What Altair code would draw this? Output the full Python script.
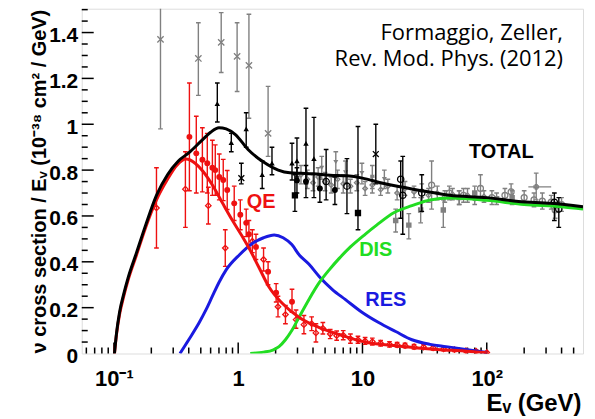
import altair as alt
import pandas as pd

# ---------------- data ----------------
# model curves (E in GeV, sigma/E in 1e-38 cm^2/GeV)
tot_E = [0.101, 0.105, 0.111, 0.12, 0.13, 0.152, 0.18, 0.22, 0.27, 0.33, 0.4, 0.5, 0.6, 0.7, 0.8, 0.95,
         1.2, 1.6, 2.1, 2.6, 3.2, 4, 5.5, 7.5, 10, 14, 20, 30, 50, 100, 180, 330, 595]
tot_S = [0.0, 0.09, 0.18, 0.26, 0.33, 0.44, 0.56, 0.69, 0.78, 0.84, 0.875, 0.925, 0.965, 0.985, 0.98, 0.955,
         0.89, 0.835, 0.80, 0.788, 0.786, 0.784, 0.778, 0.775, 0.765, 0.745, 0.727, 0.71, 0.69, 0.68, 0.663, 0.655, 0.64]

qe_E = [0.101, 0.105, 0.111, 0.12, 0.13, 0.152, 0.18, 0.22, 0.27, 0.32, 0.38, 0.45, 0.52, 0.62, 0.75, 0.9,
        1.08, 1.25, 1.47, 1.77, 2.25, 3.1, 4.5, 6.5, 10.5, 20, 40, 70, 100]
qe_S = [0.0, 0.085, 0.17, 0.25, 0.32, 0.43, 0.55, 0.67, 0.76, 0.82, 0.848, 0.83, 0.795, 0.735, 0.655, 0.58,
        0.51, 0.45, 0.375, 0.29, 0.22, 0.157, 0.113, 0.083, 0.05, 0.032, 0.018, 0.01, 0.003]

res_E = [0.34, 0.4, 0.486, 0.55, 0.62, 0.7, 0.8, 1.02, 1.3, 1.6, 1.95, 2.3, 2.7, 3.1, 3.7, 4.5, 5.7, 7.3,
         9.9, 13.5, 18.5, 25, 35, 47, 70, 100]
res_S = [0.0, 0.06, 0.135, 0.19, 0.25, 0.31, 0.365, 0.43, 0.48, 0.505, 0.517, 0.505, 0.475, 0.43, 0.39, 0.335,
         0.28, 0.235, 0.18, 0.135, 0.096, 0.06, 0.04, 0.03, 0.017, 0.004]

dis_E = [1.25, 1.6, 1.9, 2.13, 2.4, 2.7, 3.1, 3.7, 4.5, 5.4, 6.5, 8, 10.5, 13, 18, 25, 35, 50, 100, 200, 400, 595]
dis_S = [0.0, 0.006, 0.015, 0.03, 0.06, 0.1, 0.16, 0.235, 0.31, 0.365, 0.415, 0.465, 0.52, 0.56, 0.615, 0.645,
         0.67, 0.678, 0.668, 0.65, 0.64, 0.63]

# measurements: energy, value, error-bar low, error-bar high
gx_E = [0.237, 0.478, 0.73, 0.98, 1.22, 1.74]
gx_S = [1.37, 1.287, 1.357, 1.296, 1.257, 0.96]
gx_lo = [0.98, 1.126, 1.226, 1.143, 1.026, 0.86]
gx_hi = [1.80, 1.443, 1.487, 1.443, 1.48, 1.165]

btri_E = [0.679, 0.88, 1.16, 1.56, 1.87, 2.71, 2.97, 3.51, 4.07]
btri_S = [1.09, 0.92, 0.98, 0.78, 0.83, 0.83, 0.84, 0.917, 0.85]
btri_lo = [1.01, 0.88, 0.90, 0.72, 0.78, 0.757, 0.77, 0.74, 0.68]
btri_hi = [1.18, 0.96, 1.05, 0.84, 0.90, 0.917, 0.94, 1.07, 1.03]

bx_E = [1.06, 12.8]
bx_S = [0.765, 0.87]
bx_lo = [0.74, 0.74]
bx_hi = [0.83, 1.0]

bcirc_E = [2.97, 3.51, 4.54, 6.0]
bcirc_S = [0.755, 0.75, 0.72, 0.713]
bcirc_lo = [0.70, 0.68, 0.66, 0.65]
bcirc_hi = [0.81, 0.82, 0.78, 0.77]

bsq_E = [2.86, 9.2]
bsq_S = [0.69, 0.613]
bsq_lo = [0.62, 0.54]
bsq_hi = [0.78, 0.99]

bopen_E = [5.1, 7.5, 20.3, 21.1, 30, 350, 380]
bopen_S = [0.75, 0.73, 0.76, 0.69, 0.70, 0.66, 0.63]
bopen_lo = [0.67, 0.61, 0.59, 0.52, 0.62, 0.58, 0.55]
bopen_hi = [0.89, 0.85, 0.84, 0.86, 0.78, 0.70, 0.68]

gtri_E = [4.7, 6.1, 7.3, 9.9, 12, 15]
gtri_S = [0.81, 0.835, 0.79, 0.787, 0.77, 0.76]
gtri_lo = [0.76, 0.78, 0.74, 0.74, 0.72, 0.72]
gtri_hi = [0.86, 0.88, 0.84, 0.83, 0.82, 0.80]

gsq_E = [18.5, 23.6, 29.4, 44.7, 60, 80, 120, 160]
gsq_S = [0.58, 0.56, 0.626, 0.626, 0.68, 0.70, 0.675, 0.68]
gsq_lo = [0.53, 0.50, 0.57, 0.55, 0.65, 0.67, 0.65, 0.65]
gsq_hi = [0.63, 0.61, 0.68, 0.67, 0.71, 0.73, 0.70, 0.71]

gopen_E = [36, 50, 65, 89, 110, 140, 157, 200, 240, 280, 330, 355, 400]
gopen_S = [0.735, 0.70, 0.69, 0.72, 0.68, 0.69, 0.705, 0.68, 0.67, 0.665, 0.66, 0.626, 0.65]
gopen_lo = [0.63, 0.67, 0.66, 0.67, 0.65, 0.66, 0.67, 0.65, 0.64, 0.63, 0.63, 0.59, 0.62]
gopen_hi = [0.84, 0.73, 0.72, 0.78, 0.71, 0.72, 0.74, 0.71, 0.70, 0.70, 0.69, 0.66, 0.68]

gdia_E = [3.2, 3.6, 4.0, 4.4, 5.0, 5.6, 6.3, 7.0, 8.0, 9.0, 10.5, 12, 14, 16, 19, 22, 26, 30, 34, 40, 46,
          53, 60, 70, 80, 95]
gdia_S = [0.78, 0.76, 0.745, 0.77, 0.75, 0.735, 0.76, 0.74, 0.73, 0.745, 0.72, 0.735, 0.715, 0.73, 0.70,
          0.72, 0.705, 0.71, 0.69, 0.70, 0.685, 0.695, 0.68, 0.69, 0.675, 0.685]
gdia_lo = [0.74, 0.72, 0.71, 0.73, 0.71, 0.70, 0.72, 0.70, 0.70, 0.71, 0.69, 0.70, 0.69, 0.70, 0.67,
           0.69, 0.68, 0.68, 0.66, 0.67, 0.66, 0.67, 0.65, 0.66, 0.65, 0.66]
gdia_hi = [0.82, 0.80, 0.78, 0.81, 0.79, 0.77, 0.80, 0.78, 0.76, 0.78, 0.75, 0.77, 0.74, 0.76, 0.73,
           0.75, 0.73, 0.74, 0.72, 0.73, 0.71, 0.72, 0.71, 0.72, 0.70, 0.71]

gplus_E = [250]
gplus_S = [0.727]
gplus_lo = [0.67]
gplus_hi = [0.787]
gplus_Elo = [216]
gplus_Ehi = [330]

rfill_E = [0.405, 0.46, 0.515, 0.564, 0.62, 0.654, 0.704, 0.758, 0.816, 0.929, 1.04, 1.16, 1.22, 1.39,
           1.74, 2.02, 2.71]
rfill_S = [0.945, 0.873, 0.845, 0.83, 0.81, 0.80, 0.77, 0.757, 0.713, 0.655, 0.605, 0.57, 0.52, 0.465,
           0.357, 0.265, 0.226]
rfill_lo = [0.71, 0.70, 0.705, 0.70, 0.69, 0.69, 0.67, 0.667, 0.628, 0.58, 0.54, 0.51, 0.46, 0.41,
            0.30, 0.225, 0.18]
rfill_hi = [1.18, 1.035, 0.985, 0.96, 0.93, 0.91, 0.87, 0.847, 0.798, 0.73, 0.67, 0.63, 0.58, 0.52,
            0.40, 0.305, 0.28]

ropen_E = [0.22, 0.376, 0.575, 0.787, 1.3, 1.6, 2.09, 2.4, 2.92, 3.38, 3.9, 4.22, 4.8, 5.5, 6.2, 7.0,
           8.0, 9.2, 10.5, 12, 14, 16.5, 19, 22, 26, 31, 37, 45, 55, 68, 82, 100]
ropen_S = [0.635, 0.717, 0.645, 0.46, 0.49, 0.41, 0.204, 0.17, 0.148, 0.126, 0.13, 0.09, 0.11, 0.085,
           0.078, 0.08, 0.065, 0.06, 0.055, 0.052, 0.045, 0.04, 0.038, 0.035, 0.03, 0.028, 0.025, 0.02,
           0.017, 0.012, 0.01, 0.004]
ropen_lo = [0.46, 0.55, 0.565, 0.38, 0.44, 0.36, 0.16, 0.13, 0.11, 0.086, 0.10, 0.05, 0.085, 0.065,
            0.058, 0.06, 0.045, 0.045, 0.04, 0.037, 0.033, 0.028, 0.028, 0.025, 0.02, 0.018, 0.015,
            0.012, 0.009, 0.004, 0.004, 0.0]
ropen_hi = [0.81, 0.88, 0.725, 0.54, 0.54, 0.46, 0.25, 0.21, 0.19, 0.166, 0.16, 0.13, 0.135, 0.105,
            0.098, 0.10, 0.085, 0.075, 0.07, 0.067, 0.057, 0.052, 0.048, 0.045, 0.04, 0.038, 0.035,
            0.028, 0.025, 0.02, 0.016, 0.009]

# labels
lab_text = ["QE", "DIS", "RES", "TOTAL"]
lab_E = [1.53, 12.8, 15.4, 131]
lab_S = [0.661, 0.452, 0.235, 0.878]
lab_col = ["#ee1111", "#22dd22", "#1a1ae0", "#000000"]

cite_text = ["Formaggio, Zeller, ", "Rev. Mod. Phys. (2012)"]
cite_E = [411, 411]
cite_S = [1.369, 1.252]

# axis ticks
x_major = [0.1, 1, 10, 100]
x_minor = [0.06, 0.07, 0.08, 0.09, 0.2, 0.3, 0.4, 0.5, 0.6, 0.7, 0.8, 0.9, 2, 3, 4, 5, 6, 7, 8, 9,
           20, 30, 40, 50, 60, 70, 80, 90, 200, 300, 400, 500]
y_major = [0.2, 0.4, 0.6, 0.8, 1.0, 1.2, 1.4]
y_minor = [0.05, 0.1, 0.15, 0.25, 0.3, 0.35, 0.45, 0.5, 0.55, 0.65, 0.7, 0.75, 0.85, 0.9, 0.95, 1.05,
           1.1, 1.15, 1.25, 1.3, 1.35, 1.45, 1.5]
y_labels = [0, 0.2, 0.4, 0.6, 0.8, 1.0, 1.2, 1.4]

# ---------------- styling ----------------
W, H = 503, 346
FONT = "Liberation Sans"
RED, BLUE, GREEN, GRAY = "#ee1111", "#1a1ae0", "#22dd22", "#808080"

xscale = alt.Scale(type="log", domain=[0.0551, 595], nice=False)
yscale = alt.Scale(domain=[0, 1.504], nice=False, zero=False)

xaxis = alt.Axis(values=x_major, ticks=False, tickSize=0, domain=False, grid=False,
                 labelExpr="datum.value < 0.5 ? '10⁻¹' : (datum.value > 50 ? '10²' : format(datum.value, 'd'))",
                 labelFont=FONT, labelFontSize=22, labelFontWeight="bold", labelColor="black",
                 labelPadding=15, labelFlush=False, labelOverlap=False,
                 title="Eᵥ (GeV)", titleFont=FONT, titleFontSize=24, titleFontWeight="bold",
                 titleColor="black", titleAlign="right", titleAnchor="end", titleX=501, titleY=57,
                 titleBaseline="alphabetic")
yaxis = alt.Axis(values=y_labels, ticks=False, tickSize=0, domain=False, grid=False,
                 labelExpr="format(datum.value, '.1~f')",
                 labelFont=FONT, labelFontSize=21, labelFontWeight="bold", labelColor="black",
                 labelPadding=4, labelOffset=3, labelFlush=False, labelOverlap=False,
                 title="ν cross section / Eᵥ (10⁻³⁸ cm² / GeV)", titleFont=FONT, titleFontSize=20,
                 titleFontWeight="bold", titleColor="black", titleAngle=-90, titleAlign="center",
                 titleBaseline="alphabetic", titleX=-36, titleY=173)


def X(f):
    return alt.X(f"{f}:Q", scale=xscale, axis=xaxis)


def Y(f):
    return alt.Y(f"{f}:Q", scale=yscale, axis=yaxis)


def series(E, S, lo, hi, color, shape, filled, size=30):
    df = pd.DataFrame({"E": E, "s": S, "lo": lo, "hi": hi})
    base = alt.Chart(df)
    bars = base.mark_rule(color=color, strokeWidth=1.4, clip=True).encode(
        x=X("E"), y=Y("lo"), y2="hi")
    cl = base.mark_point(shape="stroke", color=color, size=22, strokeWidth=1.4, opacity=1,
                         clip=True).encode(x=X("E"), y=Y("lo"))
    ch = base.mark_point(shape="stroke", color=color, size=22, strokeWidth=1.4, opacity=1,
                         clip=True).encode(x=X("E"), y=Y("hi"))
    pts = base.mark_point(shape=shape, filled=filled, color=color, size=size, strokeWidth=1.3,
                          opacity=1, clip=True).encode(x=X("E"), y=Y("s"))
    return [bars, cl, ch, pts]


XSHAPE = "M-1,-1L1,1M-1,1L1,-1"
layers = []

# ticks (inside the frame)
xt_major = alt.Chart(pd.DataFrame({"v": x_major})).mark_rule(color="black", strokeWidth=1.5).encode(
    x=X("v"), y=alt.value(H), y2=alt.value(H - 11))
xt_minor = alt.Chart(pd.DataFrame({"v": x_minor})).mark_rule(color="black", strokeWidth=1.5).encode(
    x=X("v"), y=alt.value(H), y2=alt.value(H - 6))
yt_major = alt.Chart(pd.DataFrame({"v": y_major})).mark_rule(color="black", strokeWidth=1.5).encode(
    y=Y("v"), x=alt.value(0), x2=alt.value(12))
yt_minor = alt.Chart(pd.DataFrame({"v": y_minor})).mark_rule(color="black", strokeWidth=1.5).encode(
    y=Y("v"), x=alt.value(0), x2=alt.value(6))
layers += [xt_major, xt_minor, yt_major, yt_minor]

# data points
layers += series(gx_E, gx_S, gx_lo, gx_hi, GRAY, XSHAPE, False, 40)
layers += series(gdia_E, gdia_S, gdia_lo, gdia_hi, GRAY, "diamond", False, 22)
layers += series(gtri_E, gtri_S, gtri_lo, gtri_hi, GRAY, "triangle-down", True, 25)
layers += series(gsq_E, gsq_S, gsq_lo, gsq_hi, GRAY, "square", True, 30)
layers += series(gopen_E, gopen_S, gopen_lo, gopen_hi, GRAY, "circle", False, 35)
layers += series(gplus_E, gplus_S, gplus_lo, gplus_hi, GRAY, "cross", False, 20)
gplus_h = alt.Chart(pd.DataFrame({"a": gplus_Elo, "b": gplus_Ehi, "s": gplus_S})).mark_rule(
    color=GRAY, strokeWidth=1.4, clip=True).encode(x=X("a"), x2="b", y=Y("s"))
layers.append(gplus_h)
layers += series(btri_E, btri_S, btri_lo, btri_hi, "black", "triangle-up", True, 30)
layers += series(bx_E, bx_S, bx_lo, bx_hi, "black", XSHAPE, False, 35)
layers += series(bcirc_E, bcirc_S, bcirc_lo, bcirc_hi, "black", "circle", True, 35)
layers += series(bsq_E, bsq_S, bsq_lo, bsq_hi, "black", "square", True, 40)
layers += series(bopen_E, bopen_S, bopen_lo, bopen_hi, "black", "circle", False, 40)
layers += series(ropen_E, ropen_S, ropen_lo, ropen_hi, RED, "diamond", False, 30)
layers += series(rfill_E, rfill_S, rfill_lo, rfill_hi, RED, "circle", True, 35)


# model curves
def curve(E, S, color):
    return alt.Chart(pd.DataFrame({"E": E, "s": S})).mark_line(
        color=color, strokeWidth=3, interpolate="monotone", clip=True).encode(
        x=X("E"), y=Y("s"), order=alt.Order("E:Q"))


layers += [curve(res_E, res_S, BLUE), curve(dis_E, dis_S, GREEN), curve(qe_E, qe_S, RED),
           curve(tot_E, tot_S, "black")]

# curve labels
labdf = pd.DataFrame({"t": lab_text, "E": lab_E, "s": lab_S, "c": lab_col})
labels = alt.Chart(labdf).mark_text(font=FONT, fontSize=20, fontWeight="bold", align="center",
                                     baseline="middle").encode(
    x=X("E"), y=Y("s"), text="t:N", color=alt.Color("c:N", scale=None))
layers.append(labels)

cite = alt.Chart(pd.DataFrame({"E": cite_E, "s": cite_S, "t": cite_text})).mark_text(
    font="Open Sans", fontSize=22, align="right", baseline="alphabetic",
    color="black").encode(x=X("E"), y=Y("s"), text="t:N")
layers.append(cite)

chart = alt.layer(*layers).properties(
    width=W, height=H,
    autosize=alt.AutoSizeParams(type="none"),
    padding={"left": 74, "top": 0, "right": 4, "bottom": 64},
).configure_view(stroke="black", strokeWidth=2).configure(background="white")

chart.save("out.html", embed_options={"renderer": "svg", "actions": False})
